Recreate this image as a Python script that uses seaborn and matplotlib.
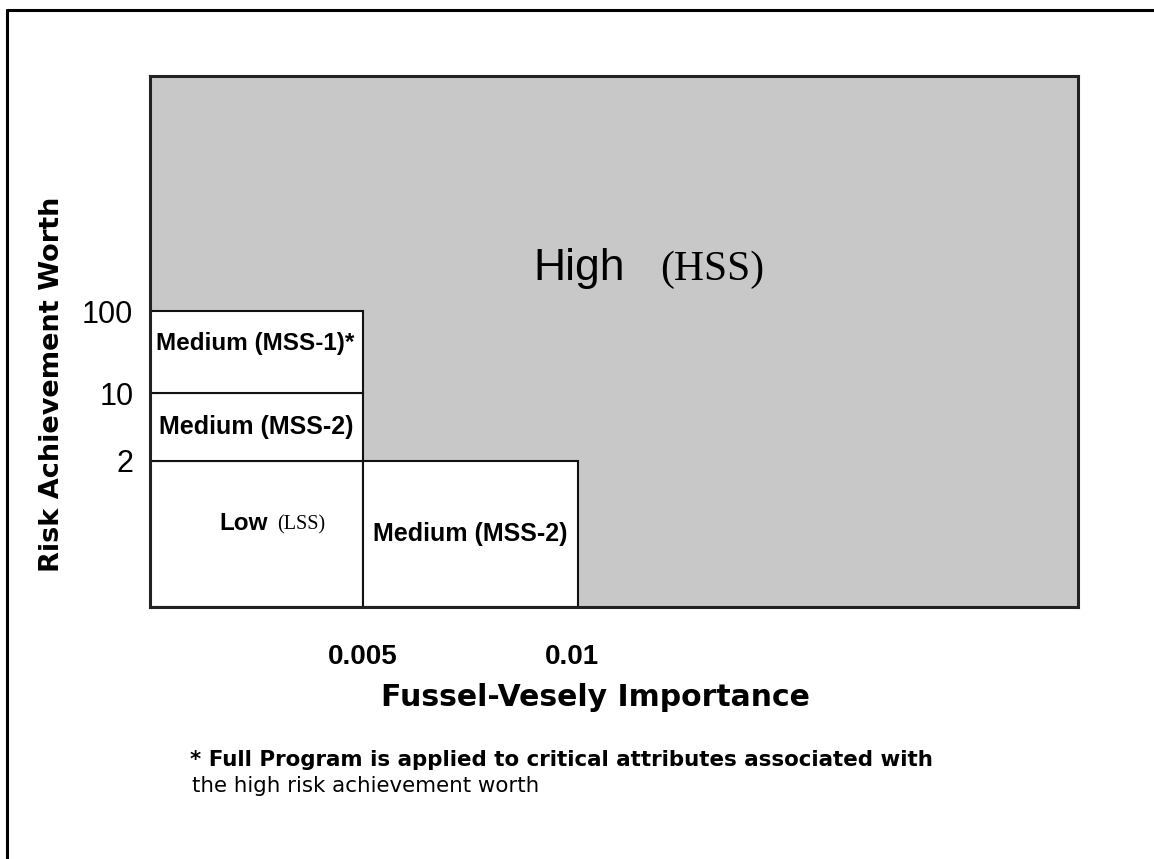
import numpy as np
import matplotlib
matplotlib.use("Agg")
import matplotlib.pyplot as plt
import matplotlib.transforms as mtransforms
import seaborn as sns
from matplotlib.lines import Line2D

# Bölge sınırları (eksen değerleri)
fv_ticks = [0.005, 0.01]
fv_labels = ["0.005", "0.01"]
raw_ticks = [2, 10, 100]
raw_labels = ["2", "10", "100"]

# Bölgeler: (x0, x1, y0, y1, etiket)
region_x0 = [0.0, 0.005, 0.0, 0.0]
region_x1 = [0.005, 0.01, 0.005, 0.005]
region_y0 = [0, 0, 2, 10]
region_y1 = [2, 2, 10, 100]
region_names = ["Low", "Medium (MSS-2)", "Medium (MSS-2)", "Medium (MSS-1)*"]

x_limits = [0.0, 0.05]
y_limits = [0, 1000]

# Eksen ölçeği: parçalı (kategori genişlikleri şekildeki gibi)
x_anchor = [0.0, 0.005, 0.01, 0.05]
x_pos = [0.0, 0.2295, 0.461, 1.0]
y_anchor = [0, 2, 10, 100, 1000]
y_pos = [0.0, 0.275, 0.403, 0.557, 1.0]


def fx(v):
    return np.interp(v, x_anchor, x_pos)


def fx_inv(v):
    return np.interp(v, x_pos, x_anchor)


def fy(v):
    return np.interp(v, y_anchor, y_pos)


def fy_inv(v):
    return np.interp(v, y_pos, y_anchor)


sns.set_theme(style="white")
plt.rcParams['font.family'] = ['Liberation Sans', 'DejaVu Sans']
plt.rcParams['text.color'] = 'black'
plt.rcParams['xtick.color'] = 'black'
plt.rcParams['ytick.color'] = 'black'

fig = plt.figure(figsize=(11.54, 8.59), dpi=100)
ax = fig.add_axes([150 / 1154, 1 - 607 / 859, 928 / 1154, 531 / 859])
ax.set_xscale('function', functions=(fx, fx_inv))
ax.set_yscale('function', functions=(fy, fy_inv))

# Arka plan: High bölgesi (gri)
ax.bar(x_limits[0], y_limits[1] - y_limits[0], width=x_limits[1] - x_limits[0],
       bottom=y_limits[0], align='edge', color='#c8c8c8', edgecolor='none', zorder=1)

# Beyaz kutular
widths = np.array(region_x1) - np.array(region_x0)
heights = np.array(region_y1) - np.array(region_y0)
ax.bar(region_x0, heights, width=widths, bottom=region_y0, align='edge',
       color='white', edgecolor='#111111', linewidth=1.5, zorder=2)

ax.set_xlim(x_limits)
ax.set_ylim(y_limits)

for s in ax.spines.values():
    s.set_color('#222222')
    s.set_linewidth(2.2)
    s.set_zorder(5)

ax.set_xticks(fv_ticks)
ax.set_xticklabels(fv_labels, fontsize=20, fontweight='bold')
ax.set_yticks(raw_ticks)
ax.set_yticklabels(raw_labels, fontsize=22)
ax.tick_params(axis='x', length=0, pad=27)
ax.tick_params(axis='y', length=0, pad=12)
ax.minorticks_off()
# 0.01 etiketi referansta biraz solda
for lbl in ax.get_xticklabels():
    if lbl.get_text() == "0.01":
        lbl.set_transform(lbl.get_transform() +
                          mtransforms.ScaledTranslation(-6 / 100, 0, fig.dpi_scale_trans))

# Kutu etiketleri
for x0, x1, y0, y1, name in zip(region_x0, region_x1, region_y0, region_y1, region_names):
    cx = fx_inv((fx(x0) + fx(x1)) / 2)
    cy = fy_inv((fy(y0) + fy(y1)) / 2)
    if name == "Low":
        ax.annotate("Low", (cx, cy), xytext=(8, 3), textcoords='offset points',
                    ha='right', va='baseline', fontsize=17.5, fontweight='bold', zorder=6)
        ax.annotate("(LSS)", (cx, cy), xytext=(15, 3), textcoords='offset points',
                    ha='left', va='baseline', fontsize=14.5, family='Liberation Serif', zorder=6)
    elif name.startswith("Medium (MSS-1)"):
        ax.annotate(name, (cx, cy), xytext=(-1, 6), textcoords='offset points',
                    ha='center', va='center', fontsize=17.5, fontweight='bold', zorder=6)
    else:
        ax.annotate(name, (cx, cy), xytext=(0, 0), textcoords='offset points',
                    ha='center', va='center', fontsize=18, fontweight='bold', zorder=6)

# High (HSS)
hx = fx_inv(0.515)
hy = fy_inv(0.616)
ax.annotate("High", (hx, hy), xytext=(-2, 0), textcoords='offset points',
            ha='right', va='baseline', fontsize=32, zorder=6)
ax.annotate("(HSS)", (hx, hy), xytext=(23, 0), textcoords='offset points',
            ha='left', va='baseline', fontsize=30, family='Liberation Serif', zorder=6)

# Eksen başlıkları
fig.text(595 / 1154, 1 - 697 / 859, "Fussel-Vesely Importance", ha='center', va='center',
         fontsize=21.5, fontweight='bold', family='DejaVu Sans')
fig.text(52 / 1154, 1 - 384 / 859, "Risk Achievement Worth", ha='center', va='center',
         rotation=90, fontsize=19.5, fontweight='bold', family='DejaVu Sans')

# Dipnot
fig.text(190 / 1154, 1 - 760 / 859,
         "* Full Program is applied to critical attributes associated with",
         ha='left', va='center', fontsize=15.4, fontweight='bold', family='DejaVu Sans')
fig.text(192 / 1154, 1 - 786 / 859, "the high risk achievement worth",
         ha='left', va='center', fontsize=15.4, family='DejaVu Sans')

# Dış çerçeve (üst ve sol)
fig.add_artist(Line2D([7 / 1154, 1.0], [1 - 10 / 859, 1 - 10 / 859], color='black', lw=2.2))
fig.add_artist(Line2D([7 / 1154, 7 / 1154], [0.0, 1 - 10 / 859], color='black', lw=2.2))

fig.savefig("out.png", dpi=100)
